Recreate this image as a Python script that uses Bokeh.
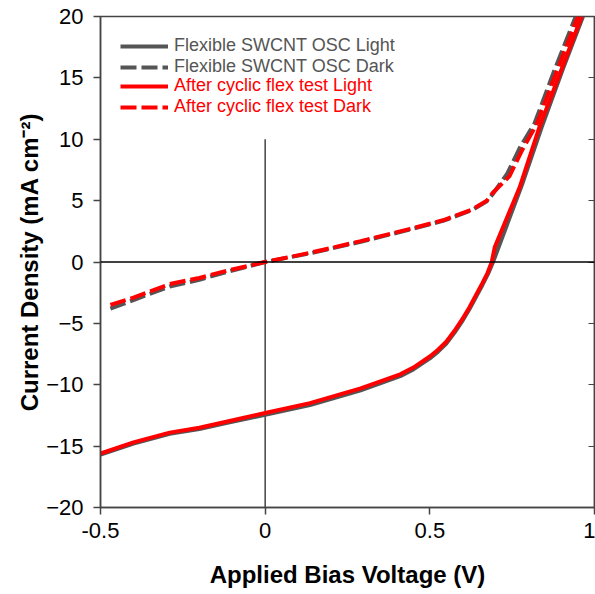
from bokeh.plotting import figure
from bokeh.models import (Legend, LegendItem, LinearAxis, FixedTicker, Span)
from bokeh.embed import file_html
from bokeh.resources import INLINE

# ---- data ----
x_ticks = [-0.5, 0, 0.5, 1]
x_tick_labels = ["-0.5", "0", "0.5", "1"]
y_ticks = [-20, -15, -10, -5, 0, 5, 10, 15, 20]

# Flexible SWCNT OSC (gray)
flex_light_v = [-0.5, -0.4, -0.29, -0.2, -0.115, 0.0, 0.136, 0.29, 0.41, 0.45, 0.5, 0.525, 0.55, 0.575, 0.6, 0.62, 0.64, 0.66, 0.677, 0.692, 0.78, 0.84, 0.905, 0.965]
flex_light_j = [-15.7, -14.8, -14.0, -13.6, -13.1, -12.45, -11.65, -10.45, -9.3, -8.75, -7.85, -7.3, -6.65, -5.75, -4.75, -3.85, -2.85, -1.85, -0.95, 0.0, 6.3, 11.0, 15.8, 20.0]
flex_dark_v = [-0.47, -0.4, -0.29, -0.2, -0.115, 0.0, 0.136, 0.29, 0.44, 0.54, 0.63, 0.673, 0.69, 0.735, 0.775, 0.818, 0.878, 0.943]
flex_dark_j = [-3.8, -3.1, -2.0, -1.45, -0.8, 0.0, 0.7, 1.65, 2.65, 3.35, 4.25, 4.95, 5.5, 7.2, 9.4, 11.3, 15.6, 20.0]

# After cyclic flex test (red)
after_light_v = [-0.5, -0.4, -0.29, -0.2, -0.115, 0.0, 0.136, 0.29, 0.41, 0.45, 0.5, 0.525, 0.55, 0.575, 0.6, 0.62, 0.64, 0.66, 0.675, 0.688, 0.697, 0.773, 0.833, 0.903, 0.961]
after_light_j = [-15.6, -14.7, -13.9, -13.5, -13.0, -12.3, -11.5, -10.3, -9.15, -8.6, -7.7, -7.15, -6.5, -5.6, -4.6, -3.7, -2.7, -1.7, -0.9, 0.0, 1.2, 6.1, 11.0, 15.9, 20.0]
after_dark_v = [-0.47, -0.4, -0.29, -0.2, -0.115, 0.0, 0.136, 0.29, 0.44, 0.54, 0.63, 0.673, 0.69, 0.742, 0.78, 0.824, 0.885, 0.95]
after_dark_j = [-3.5, -2.9, -1.8, -1.3, -0.7, 0.0, 0.75, 1.7, 2.7, 3.4, 4.3, 5.0, 5.6, 7.0, 9.1, 11.2, 15.5, 20.0]

labels = ["Flexible SWCNT OSC Light", "Flexible SWCNT OSC Dark",
          "After cyclic flex test Light", "After cyclic flex test Dark"]

zero_v_line_top = 10  # vertical V=0 line drawn from J=-20 up to J=10

GRAY = "#555555"
RED = "#ff0000"
FONT = "Liberation Sans"

p = figure(width=595, height=594, output_backend="svg", toolbar_location=None,
           x_range=(-0.5, 1.0), y_range=(-20, 20),
           min_border_left=100, min_border_right=1, min_border_top=16, min_border_bottom=87)
p.background_fill_color = "white"
p.border_fill_color = "white"
p.outline_line_color = "#444444"
p.outline_line_width = 1.5
p.xgrid.visible = False
p.ygrid.visible = False

# reference lines
p.add_layout(Span(location=0, dimension="width", line_color="black", line_width=1.5))
p.segment(x0=[0], y0=[-20], x1=[0], y1=[zero_v_line_top], line_color="#444444", line_width=1.5)

gl = p.line(flex_light_v, flex_light_j, line_color=GRAY, line_width=4, line_join="round")
gd = p.line(flex_dark_v, flex_dark_j, line_color=GRAY, line_width=4, line_dash="16 5")
rl = p.line(after_light_v, after_light_j, line_color=RED, line_width=4, line_join="round")
rd = p.line(after_dark_v, after_dark_j, line_color=RED, line_width=4, line_dash="16 5")

# axes
xa = p.xaxis[0]
xa.ticker = FixedTicker(ticks=x_ticks)
xa.major_label_overrides = {t: l for t, l in zip(x_ticks, x_tick_labels)}
ya = p.yaxis[0]
ya.ticker = FixedTicker(ticks=y_ticks)
for ax in (xa, ya):
    ax.axis_line_color = "#444444"
    ax.axis_line_width = 1.5
    ax.major_tick_line_color = "#444444"
    ax.major_tick_line_width = 1.5
    ax.major_tick_in = 0
    ax.major_tick_out = 7
    ax.minor_tick_line_color = None
    ax.major_label_text_font = FONT
    ax.major_label_text_font_size = "22px"
    ax.major_label_text_color = "black"
    ax.axis_label_text_font = FONT
    ax.axis_label_text_font_style = "bold"
    ax.axis_label_text_font_size = "24px"
    ax.axis_label_text_color = "black"
xa.axis_label = "Applied Bias Voltage (V)"
xa.major_label_standoff = 8
xa.axis_label_standoff = 20
ya.axis_label = "Current Density (mA cm\u207b\u00b2)"
ya.major_label_standoff = 10
ya.axis_label_standoff = 0

ra = LinearAxis(ticker=FixedTicker(ticks=y_ticks))
ra.axis_line_color = "#444444"
ra.axis_line_width = 1.5
ra.major_tick_line_color = "#444444"
ra.major_tick_in = 6
ra.major_tick_out = 0
ra.minor_tick_line_color = None
ra.major_label_overrides = {t: "" for t in y_ticks}
ra.major_label_standoff = 0
p.add_layout(ra, "right")

# legends (two, for the two label colours)
def make_legend(items, color, loc):
    lg = Legend(items=items, location=loc, orientation="vertical")
    lg.background_fill_alpha = 0
    lg.border_line_color = None
    lg.padding = 0
    lg.margin = 0
    lg.spacing = 0
    lg.glyph_width = 48
    lg.glyph_height = 20
    lg.label_height = 20
    lg.label_standoff = 6
    lg.label_text_font = FONT
    lg.label_text_font_size = "18px"
    lg.label_text_color = color
    return lg

leg1 = make_legend([LegendItem(label=labels[0], renderers=[gl]),
                    LegendItem(label=labels[1], renderers=[gd])], GRAY, (20, 430))
leg2 = make_legend([LegendItem(label=labels[2], renderers=[rl]),
                    LegendItem(label=labels[3], renderers=[rd])], RED, (20, 390))
p.add_layout(leg1)
p.add_layout(leg2)

open("out.html", "w").write(file_html(p, INLINE))
